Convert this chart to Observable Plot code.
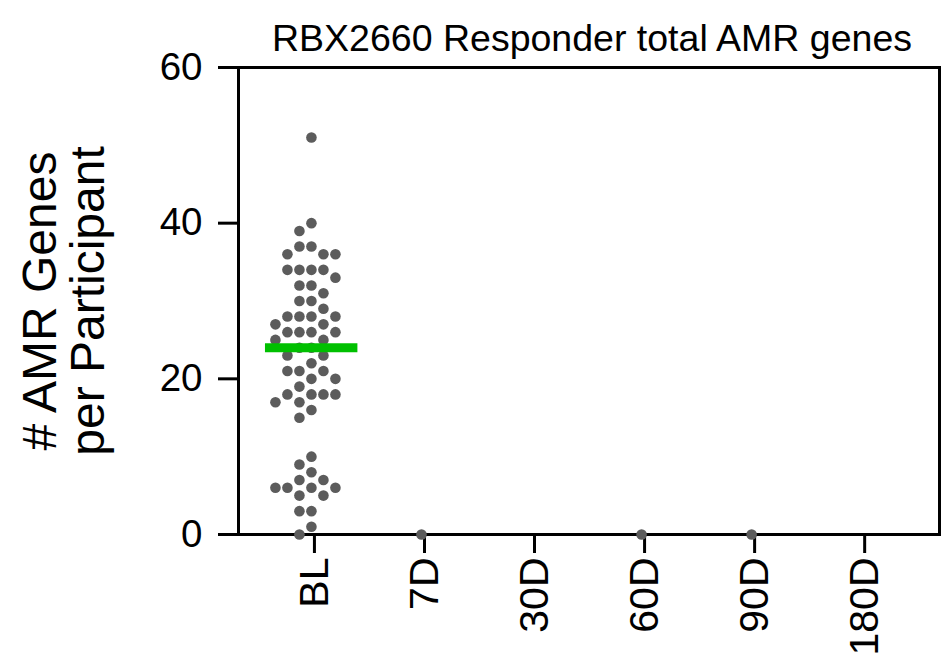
<!DOCTYPE html>
<html><head><meta charset="utf-8">
<script src="https://cdn.jsdelivr.net/npm/d3@7"></script>
<script src="https://cdn.jsdelivr.net/npm/@observablehq/plot@0.6"></script>
<style>
body{margin:0;background:#fff;}
</style></head><body><div id="chart"></div>
<script>
const categories = ["BL","7D","30D","60D","90D","180D"];
const blValues = [51,40,39,37,37,36,36,36,34,34,34,34,33,32,32,31,30,30,29,28,28,28,28,27,27,26,26,26,26,25,25,24,24,23,23,22,21,21,21,20,20,19,18,18,18,18,17,17,16,15,10,9,8,7,7,6,6,6,6,5,5,3,3,1,0];
const d7Values = [0];
const d30Values = [];
const d60Values = [0];
const d90Values = [0];
const d180Values = [];
const medianGroups = ["BL"];
const medianValues = [24];
const yTicks = [0,20,40,60];
const titleText = "RBX2660 Responder total AMR genes";
const yLabelLines = ["# AMR Genes","per Participant"];

const groups = [blValues,d7Values,d30Values,d60Values,d90Values,d180Values];
const W=941,H=658,mL=238,mR=2,mT=67,mB=124;
const xDomain=[-0.69,5.68];
const pxPerX=(W-mL-mR)/(xDomain[1]-xDomain[0]);
const pxPerY=(H-mT-mB)/60;

function swarm(values, gi){
  const placed=[], out=[];
  const order = values.map((v,i)=>i).sort((a,b)=>values[b]-values[a]);
  for (const i of order){
    const py = values[i]*pxPerY;
    for (let k=0;k<50;k++){
      const cand = k===0?[0]:[-k*6,k*6];
      let ok=null;
      for (const c of cand){
        if (placed.every(p=>Math.hypot(p.x-c,p.y-py)>=10)){ok=c;break;}
      }
      if (ok!==null){
        placed.push({x:ok,y:py});
        out.push({group:categories[gi], value:values[i], x: gi + (ok-3)/pxPerX});
        break;
      }
    }
  }
  return out;
}
const points = groups.flatMap((vals,gi)=>swarm(vals,gi));
const medians = medianGroups.map((g,i)=>({gi:categories.indexOf(g), value:medianValues[i]}));

const font = "'Liberation Sans', Arial, Helvetica, sans-serif";
const plot = Plot.plot({
  width:W, height:H, marginLeft:mL, marginRight:mR, marginTop:mT, marginBottom:mB,
  style:{fontFamily:font, fontSize:"38px", color:"#000", background:"#fff", overflow:"visible"},
  x:{type:"linear", domain:xDomain},
  y:{domain:[0,60]},
  marks:[
    Plot.frame({stroke:"#000", strokeWidth:3}),
    Plot.axisX({ticks:d3.range(categories.length), tickFormat:i=>categories[i], tickSize:19, tickPadding:4, tickRotate:-90, strokeWidth:3, label:null, fontSize:41}),
    Plot.axisY({ticks:yTicks, tickSize:20, tickPadding:16, strokeWidth:3, label:null, fontSize:38.5}),
    Plot.dot(points, {x:"x", y:"value", r:5.3, fill:"#5c5c5c", stroke:"none"}),
    Plot.ruleY(medians, {y:"value", x1:d=>d.gi-0.445, x2:d=>d.gi+0.395, stroke:"#00c000", strokeWidth:9}),
    Plot.text([titleText], {frameAnchor:"top", lineAnchor:"bottom", dy:-17, dx:3, fontSize:37.5}),
    Plot.text([yLabelLines[0]], {frameAnchor:"left", textAnchor:"middle", rotate:-90, dx:-198, fontSize:48}),
    Plot.text([yLabelLines[1]], {frameAnchor:"left", textAnchor:"middle", rotate:-90, dx:-150, fontSize:48})
  ]
});
document.getElementById("chart").appendChild(plot);
</script></body></html>
